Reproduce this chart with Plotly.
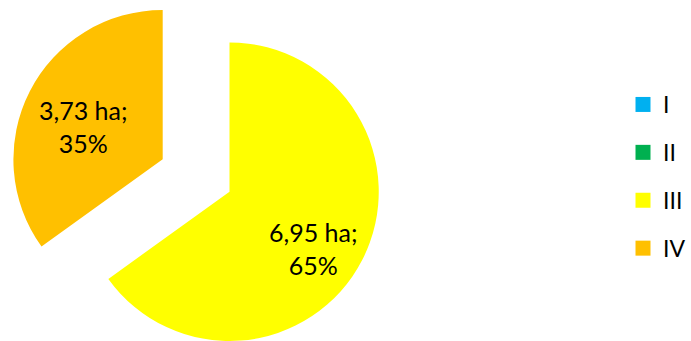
import plotly.graph_objects as go

# Area by class (ha)
categories = ["I", "II", "III", "IV"]
area_ha = [0.0, 0.0, 6.95, 3.73]
colors = ["#00B0F0", "#00B050", "#FFFF00", "#FFC000"]

W, H = 691, 341
FONT = "Lato"

# Each pie draws one visible slice; the IV slice sits on its own, offset disc
# so it appears pulled out toward the upper left at full size.
# (label_dx, label_dy) place the data label relative to the disc centre.
pieces = [
    {"show": "III", "cx": 229.5, "cy": 192.0, "r": 149.5, "label_dx": 83.5, "label_dy": 56.5},
    {"show": "IV", "cx": 162.7, "cy": 159.3, "r": 149.3, "label_dx": -79.2, "label_dy": -32.8},
]


def domain_for(cx, cy, r):
    x0, x1 = (cx - r) / W, (cx + r) / W
    y0, y1 = (H - cy - r) / H, (H - cy + r) / H
    return dict(x=[max(0, x0), min(1, x1)], y=[max(0, y0), min(1, y1)])


def fmt_label(value, total):
    ha = f"{value:.2f}".replace(".", ",")
    return f"{ha} ha;<br>{round(100 * value / total)}%"


total = sum(area_ha)
fig = go.Figure()

for p in pieces:
    slice_colors = [c if cat == p["show"] else "rgba(0,0,0,0)"
                    for cat, c in zip(categories, colors)]
    fig.add_trace(go.Pie(
        labels=categories,
        values=area_ha,
        sort=False,
        direction="clockwise",
        rotation=0,
        marker=dict(colors=slice_colors, line=dict(width=0)),
        textinfo="none",
        domain=domain_for(p["cx"], p["cy"], p["r"]),
        showlegend=False,
        hoverinfo="label+value+percent",
    ))
    v = area_ha[categories.index(p["show"])]
    fig.add_annotation(
        x=(p["cx"] + p["label_dx"]) / W,
        y=1 - (p["cy"] + p["label_dy"]) / H,
        xref="paper", yref="paper",
        xanchor="center", yanchor="middle",
        text=fmt_label(v, total),
        showarrow=False,
        font=dict(family=FONT, size=25, color="black"),
    )

# Legend entries, one group each so they can be spaced apart
for cat, c in zip(categories, colors):
    fig.add_trace(go.Scatter(
        x=[None], y=[None], mode="markers", name=cat, legendgroup=cat,
        marker=dict(symbol="square", size=15, color=c),
        hoverinfo="skip",
    ))

fig.update_layout(
    width=W, height=H,
    margin=dict(l=0, r=0, t=0, b=0, autoexpand=False),
    paper_bgcolor="white", plot_bgcolor="white",
    font=dict(family=FONT, size=25, color="black"),
    xaxis=dict(visible=False), yaxis=dict(visible=False),
    legend=dict(
        x=1, y=1 - 83 / H, xanchor="right", yanchor="top",
        tracegroupgap=15,
        font=dict(family=FONT, size=23, color="black"),
        bgcolor="rgba(0,0,0,0)",
    ),
)

fig.write_html("out.html")
